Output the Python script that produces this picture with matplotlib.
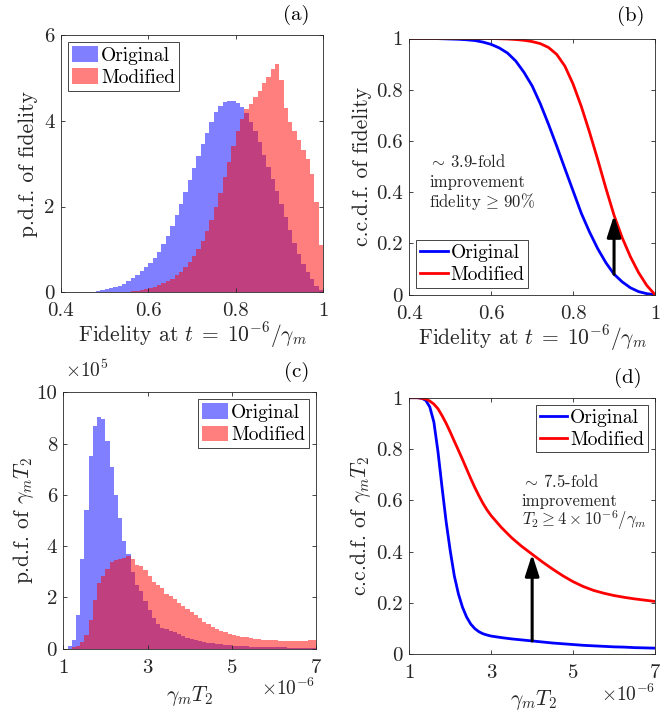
import numpy as np
import matplotlib
matplotlib.use("Agg")
import matplotlib.pyplot as plt
from matplotlib.patches import Patch
from matplotlib.lines import Line2D

plt.rcParams.update({
    "font.family": "serif",
    "font.serif": ["cmr10"],
    "mathtext.fontset": "cm",
    "axes.formatter.use_mathtext": True,
    "font.size": 14,
})

# ---------------- data ----------------
# (a) histogram of fidelity, bin width 0.01
fid_bin_width = 0.01
fid_orig_first_center = 0.485
fid_orig_pdf = [0.03, 0.05, 0.07, 0.09, 0.12, 0.15, 0.2, 0.26, 0.33, 0.41,
                0.5, 0.6, 0.68, 0.8, 0.95, 1.12, 1.32, 1.55, 1.8, 2.07,
                2.35, 2.63, 2.9, 3.17, 3.45, 3.72, 3.97, 4.2, 4.35, 4.43,
                4.46, 4.47, 4.42, 4.32, 4.19, 3.97, 3.76, 3.5, 3.2, 2.93,
                2.65, 2.36, 2.05, 1.75, 1.45, 1.15, 0.9, 0.67, 0.48, 0.3,
                0.15, 0.05]
fid_mod_first_center = 0.555
fid_mod_pdf = [0.01, 0.02, 0.04, 0.06, 0.08, 0.1, 0.13, 0.17, 0.21, 0.26,
               0.32, 0.4, 0.48, 0.58, 0.7, 0.84, 1.0, 1.2, 1.42, 1.68,
               1.98, 2.32, 2.68, 3.05, 3.4, 3.75, 4.05, 4.27, 4.4, 4.55,
               4.7, 4.87, 5.03, 5.2, 5.33, 4.95, 4.3, 3.98, 3.75, 3.55,
               3.32, 3.1, 2.75, 2.1, 1.1]

# (b) complementary cdf of fidelity
fid_grid = [0.40, 0.42, 0.44, 0.46, 0.48, 0.50, 0.52, 0.54, 0.56, 0.58,
            0.60, 0.62, 0.64, 0.66, 0.68, 0.70, 0.72, 0.74, 0.76, 0.78,
            0.80, 0.82, 0.84, 0.86, 0.88, 0.90, 0.92, 0.94, 0.96, 0.98, 1.00]
fid_orig_ccdf = [1.0, 1.0, 1.0, 1.0, 0.999, 0.998, 0.997, 0.995, 0.992, 0.986,
                 0.977, 0.963, 0.943, 0.912, 0.868, 0.815, 0.745, 0.665, 0.58, 0.492,
                 0.405, 0.318, 0.245, 0.18, 0.125, 0.08, 0.05, 0.027, 0.012, 0.004, 0.0]
fid_mod_ccdf = [1.0, 1.0, 1.0, 1.0, 1.0, 1.0, 1.0, 1.0, 1.0, 1.0,
                1.0, 0.999, 0.998, 0.996, 0.993, 0.988, 0.98, 0.965, 0.938, 0.892,
                0.822, 0.735, 0.635, 0.528, 0.416, 0.31, 0.222, 0.148, 0.086, 0.036, 0.0]
fid_threshold = 0.90

# (c) histogram of gamma_m*T2 (x in units of 1e-6, pdf in units of 1e5), bin width 0.1
t2_bin_width = 0.1
t2_first_center = 1.05
t2_orig_pdf = [0.0, 0.1, 0.35, 1.3, 3.5, 5.4, 7.5, 8.7, 9.05, 8.95,
               8.1, 7.1, 6.0, 5.1, 4.2, 3.7, 3.0, 2.5, 2.25, 1.85,
               1.5, 1.2, 0.95, 0.82, 0.77, 0.7, 0.64, 0.58, 0.5, 0.42,
               0.37, 0.33, 0.3, 0.27, 0.24, 0.21, 0.19, 0.17, 0.15, 0.13,
               0.12, 0.11, 0.1, 0.09, 0.08, 0.08, 0.07, 0.07, 0.06, 0.06,
               0.05, 0.05, 0.05, 0.04, 0.04, 0.04, 0.04, 0.03, 0.03, 0.03]
t2_mod_pdf = [0.0, 0.0, 0.05, 0.12, 0.28, 0.55, 1.1, 1.9, 2.55, 2.85,
              3.1, 3.4, 3.45, 3.48, 3.55, 3.6, 3.5, 3.28, 3.22, 3.05,
              2.85, 2.62, 2.5, 2.35, 2.15, 2.05, 1.92, 1.78, 1.65, 1.55,
              1.42, 1.3, 1.18, 1.06, 0.95, 0.84, 0.76, 0.7, 0.65, 0.58,
              0.53, 0.5, 0.47, 0.45, 0.42, 0.39, 0.37, 0.35, 0.34, 0.33,
              0.32, 0.31, 0.3, 0.3, 0.3, 0.3, 0.31, 0.31, 0.32, 0.32]

# (d) complementary cdf of gamma_m*T2 (x in units of 1e-6)
t2_grid = [1.0, 1.1, 1.2, 1.3, 1.4, 1.5, 1.6, 1.7, 1.8, 1.9,
           2.0, 2.1, 2.2, 2.3, 2.4, 2.5, 2.6, 2.7, 2.8, 2.9,
           3.0, 3.25, 3.5, 3.75, 4.0, 4.25, 4.5, 4.75, 5.0, 5.25,
           5.5, 5.75, 6.0, 6.25, 6.5, 6.75, 7.0]
t2_orig_ccdf = [1.0, 1.0, 1.0, 0.998, 0.99, 0.964, 0.905, 0.79, 0.65, 0.516,
                0.403, 0.305, 0.235, 0.183, 0.145, 0.118, 0.1, 0.088, 0.08, 0.075,
                0.071, 0.065, 0.06, 0.056, 0.052, 0.048, 0.044, 0.041, 0.038, 0.035,
                0.033, 0.031, 0.029, 0.028, 0.026, 0.025, 0.024]
t2_mod_ccdf = [1.0, 1.0, 1.0, 0.998, 0.995, 0.987, 0.975, 0.957, 0.93, 0.9,
               0.866, 0.83, 0.795, 0.759, 0.722, 0.685, 0.65, 0.618, 0.588, 0.562,
               0.54, 0.494, 0.454, 0.42, 0.39, 0.36, 0.332, 0.306, 0.283, 0.264,
               0.249, 0.238, 0.229, 0.222, 0.216, 0.211, 0.206]
t2_threshold = 4.0

series_labels = ["Original", "Modified"]

# ---------------- styling ----------------
AX_COL = "#262626"
BLUE_FILL = (0, 0, 1, 0.5)
RED_FILL = (1, 0, 0, 0.5)
W, H = 660, 716
TICK_FS = 15
LABEL_FS = 15.5


def px_axes(l, r, t, b):
    return [l / W, 1 - b / H, (r - l) / W, (b - t) / H]


def style(ax, xticks, yticks, xlim, ylim):
    ax.set_xlim(*xlim)
    ax.set_ylim(*ylim)
    ax.set_xticks(xticks)
    ax.set_yticks(yticks)
    ax.set_xticklabels([f"{v:g}" for v in xticks])
    ax.set_yticklabels([f"{v:g}" for v in yticks])
    ax.tick_params(direction="in", top=True, right=True, length=3, width=0.6,
                   colors=AX_COL, labelsize=TICK_FS)
    ax.tick_params(axis="x", pad=7.2)
    ax.tick_params(axis="y", pad=4.5)
    for s in ax.spines.values():
        s.set_color(AX_COL)
        s.set_linewidth(0.6)


def legend(ax, handles, loc, patch=True):
    kw = dict(loc=loc, frameon=True, fancybox=False, framealpha=1,
              edgecolor=AX_COL, borderpad=0.2, handletextpad=0.15,
              labelspacing=0.2, borderaxespad=0.37, fontsize=14)
    if patch:
        kw.update(handlelength=1.35, handleheight=0.85)
    else:
        kw.update(handlelength=1.4)
    leg = ax.legend(handles, series_labels, **kw)
    leg.get_frame().set_linewidth(0.6)
    return leg


def label_axes(ax, xlabel, ylabel, xpos, ypos):
    ax.set_xlabel(xlabel, color=AX_COL, fontsize=LABEL_FS, va="center")
    ax.set_ylabel(ylabel, color=AX_COL, fontsize=LABEL_FS, va="center")
    ax.xaxis.set_label_coords(*xpos)
    ax.yaxis.set_label_coords(*ypos)


def arrow(ax, x, y0, y1):
    ax.annotate("", xy=(x, y1), xytext=(x, y0),
                arrowprops=dict(arrowstyle="-|>,head_length=0.65,head_width=0.21",
                                mutation_scale=20, lw=2.2, color="k",
                                shrinkA=0, shrinkB=0))


fig = plt.figure(figsize=(W / 100, H / 100), dpi=100)

axA = fig.add_axes(px_axes(61, 323, 35, 292.3))
axB = fig.add_axes(px_axes(409.3, 655, 38.5, 294.7))
axC = fig.add_axes(px_axes(63.3, 316, 392.3, 648.7))
axD = fig.add_axes(px_axes(409.3, 655, 397.7, 654.3))

fid_xlabel = r"Fidelity at $t\;=\;10^{-6}/\gamma_m$"

# (a) fidelity pdf
xo = fid_orig_first_center + fid_bin_width * np.arange(len(fid_orig_pdf))
xm = fid_mod_first_center + fid_bin_width * np.arange(len(fid_mod_pdf))
axA.bar(xo, fid_orig_pdf, width=fid_bin_width, color=BLUE_FILL, linewidth=0)
axA.bar(xm, fid_mod_pdf, width=fid_bin_width, color=RED_FILL, linewidth=0)
style(axA, [0.4, 0.6, 0.8, 1.0], [0, 2, 4, 6], (0.4, 1.0), (0, 6))
label_axes(axA, fid_xlabel, "p.d.f. of fidelity", (0.5, -0.168), (-0.126, 0.5))
legend(axA, [Patch(facecolor=BLUE_FILL), Patch(facecolor=RED_FILL)], "upper left")

# (b) fidelity ccdf
axB.plot(fid_grid, fid_orig_ccdf, color="b", lw=2)
axB.plot(fid_grid, fid_mod_ccdf, color="r", lw=2)
style(axB, [0.4, 0.6, 0.8, 1.0], [0, 0.2, 0.4, 0.6, 0.8, 1.0], (0.4, 1.0), (0, 1))
label_axes(axB, fid_xlabel, "c.c.d.f. of fidelity", (0.5, -0.168), (-0.193, 0.5))
legend(axB, [Line2D([], [], color="b", lw=2), Line2D([], [], color="r", lw=2)],
       "lower left", patch=False)
i = fid_grid.index(fid_threshold)
arrow(axB, fid_threshold, fid_orig_ccdf[i], fid_mod_ccdf[i])
for yy, s in zip([0.518, 0.44, 0.362],
                 [r"$\sim\,$3.9-fold", "improvement", r"fidelity$\,\geq\,$90%"]):
    axB.text(0.448, yy, s, fontsize=12, va="center", ha="left", color=AX_COL)

# (c) gamma_m T2 pdf
xt = t2_first_center + t2_bin_width * np.arange(len(t2_orig_pdf))
axC.bar(xt, t2_orig_pdf, width=t2_bin_width, color=BLUE_FILL, linewidth=0)
axC.bar(xt, t2_mod_pdf, width=t2_bin_width, color=RED_FILL, linewidth=0)
style(axC, [1, 3, 5, 7], [0, 2, 4, 6, 8, 10], (1, 7), (0, 10))
label_axes(axC, r"$\gamma_m T_2$", r"p.d.f. of $\gamma_m T_2$",
           (0.501, -0.186), (-0.159, 0.5))
axC.text(0.007, 1.06, r"$\times 10^5$", transform=axC.transAxes, fontsize=14,
         ha="left", va="baseline", color=AX_COL)
axC.text(0.996, -0.182, r"$\times 10^{-6}$", transform=axC.transAxes,
         fontsize=14, ha="right", va="baseline", color=AX_COL)
legend(axC, [Patch(facecolor=BLUE_FILL), Patch(facecolor=RED_FILL)], "upper right")

# (d) gamma_m T2 ccdf
axD.plot(t2_grid, t2_orig_ccdf, color="b", lw=2)
axD.plot(t2_grid, t2_mod_ccdf, color="r", lw=2)
style(axD, [1, 3, 5, 7], [0, 0.2, 0.4, 0.6, 0.8, 1.0], (1, 7), (0, 1))
label_axes(axD, r"$\gamma_m T_2$", r"c.c.d.f. of $\gamma_m T_2$",
           (0.505, -0.18), (-0.2, 0.5))
axD.text(1.0, -0.182, r"$\times 10^{-6}$", transform=axD.transAxes,
         fontsize=14, ha="right", va="baseline", color=AX_COL)
legend(axD, [Line2D([], [], color="b", lw=2), Line2D([], [], color="r", lw=2)],
       "upper right", patch=False)
j = t2_grid.index(t2_threshold)
arrow(axD, t2_threshold, t2_orig_ccdf[j], t2_mod_ccdf[j])
for yy, s in zip([0.674, 0.596, 0.522],
                 [r"$\sim\,$7.5-fold", "improvement",
                  r"$T_2 \geq 4 \times 10^{-6}/\gamma_m$"]):
    axD.text(3.74, yy, s, fontsize=12, va="center", ha="left", color=AX_COL)

# panel tags
for (x, y), tag in zip([(296.7, 15), (631, 16), (296.7, 372), (627.5, 378)],
                       ["(a)", "(b)", "(c)", "(d)"]):
    fig.text(x / W, 1 - y / H, tag, ha="center", va="center", fontsize=15,
             color="k")

fig.savefig("out.png", dpi=100)
